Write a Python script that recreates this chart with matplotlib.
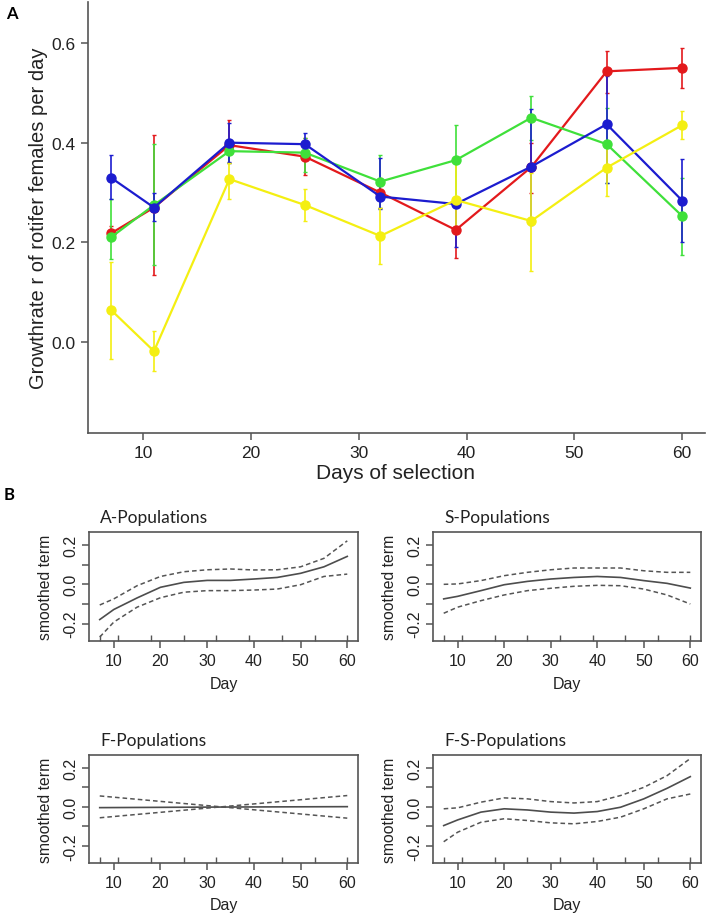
import matplotlib
matplotlib.use("Agg")
import matplotlib.pyplot as plt
import numpy as np

# ---- panel A: growth rate per selection day ----
days = [7, 11, 18, 25, 32, 39, 46, 53, 60]

red_r = [0.218, 0.270, 0.395, 0.372, 0.300, 0.225, 0.351, 0.543, 0.550]
red_lo = [0.205, 0.135, 0.360, 0.335, 0.270, 0.168, 0.300, 0.500, 0.510]
red_hi = [0.232, 0.415, 0.445, 0.410, 0.330, 0.280, 0.400, 0.583, 0.590]

green_r = [0.210, 0.275, 0.383, 0.380, 0.322, 0.365, 0.450, 0.397, 0.253]
green_lo = [0.166, 0.155, 0.360, 0.342, 0.270, 0.290, 0.405, 0.320, 0.175]
green_hi = [0.287, 0.397, 0.400, 0.410, 0.375, 0.436, 0.494, 0.470, 0.330]

blue_r = [0.330, 0.270, 0.400, 0.397, 0.292, 0.277, 0.352, 0.437, 0.284]
blue_lo = [0.287, 0.242, 0.362, 0.378, 0.268, 0.190, 0.234, 0.320, 0.200]
blue_hi = [0.375, 0.300, 0.440, 0.420, 0.370, 0.285, 0.467, 0.534, 0.367]

yellow_r = [0.065, -0.018, 0.327, 0.275, 0.213, 0.285, 0.243, 0.350, 0.435]
yellow_lo = [-0.034, -0.058, 0.288, 0.243, 0.156, 0.225, 0.143, 0.293, 0.407]
yellow_hi = [0.160, 0.022, 0.360, 0.307, 0.270, 0.360, 0.340, 0.400, 0.464]

# ---- panel B: GAM smoothed terms ----
sm_days = [7, 10, 15, 20, 25, 30, 35, 40, 45, 50, 55, 60]

a_fit = [-0.179, -0.128, -0.069, -0.015, 0.010, 0.020, 0.020, 0.027, 0.035, 0.056, 0.089, 0.142]
a_up = [-0.105, -0.074, -0.007, 0.040, 0.064, 0.074, 0.078, 0.073, 0.074, 0.089, 0.132, 0.221]
a_lo = [-0.268, -0.192, -0.116, -0.068, -0.040, -0.032, -0.032, -0.029, -0.024, -0.002, 0.040, 0.052]

s_fit = [-0.074, -0.061, -0.032, -0.002, 0.015, 0.027, 0.035, 0.040, 0.035, 0.019, 0.005, -0.019]
s_up = [0.000, 0.002, 0.019, 0.044, 0.061, 0.074, 0.083, 0.083, 0.083, 0.069, 0.061, 0.061]
s_lo = [-0.147, -0.116, -0.083, -0.054, -0.032, -0.020, -0.010, -0.005, -0.007, -0.024, -0.054, -0.100]

f_days = [7, 33, 60]
f_fit = [-0.004, -0.001, 0.001]
f_up = [0.056, 0.000, 0.058]
f_lo = [-0.056, 0.000, -0.058]

fs_fit = [-0.096, -0.067, -0.027, -0.010, -0.016, -0.027, -0.032, -0.024, -0.002, 0.041, 0.095, 0.155]
fs_up = [-0.010, -0.005, 0.024, 0.046, 0.041, 0.027, 0.020, 0.027, 0.058, 0.100, 0.160, 0.248]
fs_lo = [-0.179, -0.130, -0.079, -0.061, -0.070, -0.082, -0.087, -0.075, -0.053, -0.010, 0.041, 0.066]

W, H = 706, 920
AXC = "#555555"
TXT = "#222222"
plt.rcParams["font.family"] = ["Liberation Sans", "DejaVu Sans"]

fig = plt.figure(figsize=(W / 100, H / 100), dpi=100)
fig.patch.set_facecolor("white")


def px_rect(left, top, right, bottom):
    return [left / W, 1 - bottom / H, (right - left) / W, (bottom - top) / H]


# ---------------- panel A ----------------
ax = fig.add_axes(px_rect(88, 3, 705, 434))
ax.set_xlim(4.88, 62.12)
ax.set_ylim(-0.182, 0.682)
for side in ("top", "right"):
    ax.spines[side].set_visible(False)
for side in ("left", "bottom"):
    ax.spines[side].set_color(AXC)
    ax.spines[side].set_linewidth(1.2)
ax.set_xticks([10, 20, 30, 40, 50, 60])
ax.set_yticks([0.0, 0.2, 0.4, 0.6])
ax.set_yticklabels(["0.0", "0.2", "0.4", "0.6"])
ax.tick_params(axis="both", length=5, width=1.1, color=AXC, labelsize=12.5,
               labelcolor=TXT, pad=4)

series = [
    (red_r, red_lo, red_hi, "#e3191c"),
    (green_r, green_lo, green_hi, "#3fe03a"),
    (blue_r, blue_lo, blue_hi, "#1c1ccf"),
    (yellow_r, yellow_lo, yellow_hi, "#f4ef12"),
]
for vals, lo, hi, col in series:
    v = np.array(vals)
    err = [v - np.array(lo), np.array(hi) - v]
    ax.errorbar(days, v, yerr=err, color=col, lw=1.6, marker="o", ms=6.5,
                elinewidth=1.2, capsize=1.2, capthick=1.0)

fig.text(44 / W, 1 - 218 / H, "Growthrate r of rotifer females per day",
         rotation=90, rotation_mode="anchor", ha="center", va="baseline",
         fontsize=14.5, color=TXT)
fig.text(396 / W, 1 - 479 / H, "Days of selection", ha="center", va="baseline",
         fontsize=15, color=TXT)
fig.text(6 / W, 1 - 14 / H, "A", ha="left", va="center", fontsize=12,
         fontweight="bold", family=["Lato", "DejaVu Sans"])
fig.text(4 / W, 1 - 495 / H, "B", ha="left", va="center", fontsize=12,
         fontweight="bold", family=["Lato", "DejaVu Sans"])


# ---------------- panel B ----------------
def smooth_panel(box, title, xs, fit, up, lo):
    left, top, right, bottom = box
    a = fig.add_axes(px_rect(left, top, right, bottom))
    a.set_xlim(4.7, 62.3)
    a.set_ylim(-0.288, 0.266)
    for sp in a.spines.values():
        sp.set_color(AXC)
        sp.set_linewidth(1.2)
    a.plot(xs, fit, color="#4d4d4d", lw=1.2)
    a.plot(xs, up, color="#555555", lw=1.1, ls=(0, (3, 2)))
    a.plot(xs, lo, color="#555555", lw=1.1, ls=(0, (3, 2)))
    # rug of sampling days
    a.plot(days, [-0.288] * len(days), ls="none", marker=2, ms=4,
           mew=1.0, color=AXC, clip_on=False)
    a.set_xticks([10, 20, 30, 40, 50, 60])
    a.set_yticks([-0.2, -0.1, 0.0, 0.1, 0.2])
    a.set_yticklabels(["-0.2", "", "0.0", "", "0.2"])
    a.tick_params(axis="both", length=5, width=1.1, color=AXC, labelsize=11.5,
                  labelcolor=TXT)
    a.tick_params(axis="x", pad=4)
    a.tick_params(axis="y", pad=3, labelrotation=90)
    for lab in a.get_yticklabels():
        lab.set_va("center")
    fig.text((left + 11) / W, 1 - (top - 10) / H, title, ha="left",
             va="baseline", fontsize=12.5, color=TXT,
             family=["Lato", "DejaVu Sans"])
    fig.text((left - 44) / W, 1 - (top + bottom) / 2 / H, "smoothed term",
             rotation=90, ha="center", va="center", fontsize=11.3, color=TXT)
    fig.text((left + right) / 2 / W, 1 - (bottom + 42) / H, "Day",
             ha="center", va="center", fontsize=11.5, color=TXT)
    return a


smooth_panel((89, 533, 358, 642), "A-Populations", sm_days, a_fit, a_up, a_lo)
smooth_panel((433, 533, 701, 642), "S-Populations", sm_days, s_fit, s_up, s_lo)
smooth_panel((89, 756, 358, 864), "F-Populations", f_days, f_fit, f_up, f_lo)
smooth_panel((433, 756, 701, 864), "F-S-Populations", sm_days, fs_fit, fs_up, fs_lo)

fig.savefig("out.png", dpi=100, facecolor="white")
plt.close(fig)
